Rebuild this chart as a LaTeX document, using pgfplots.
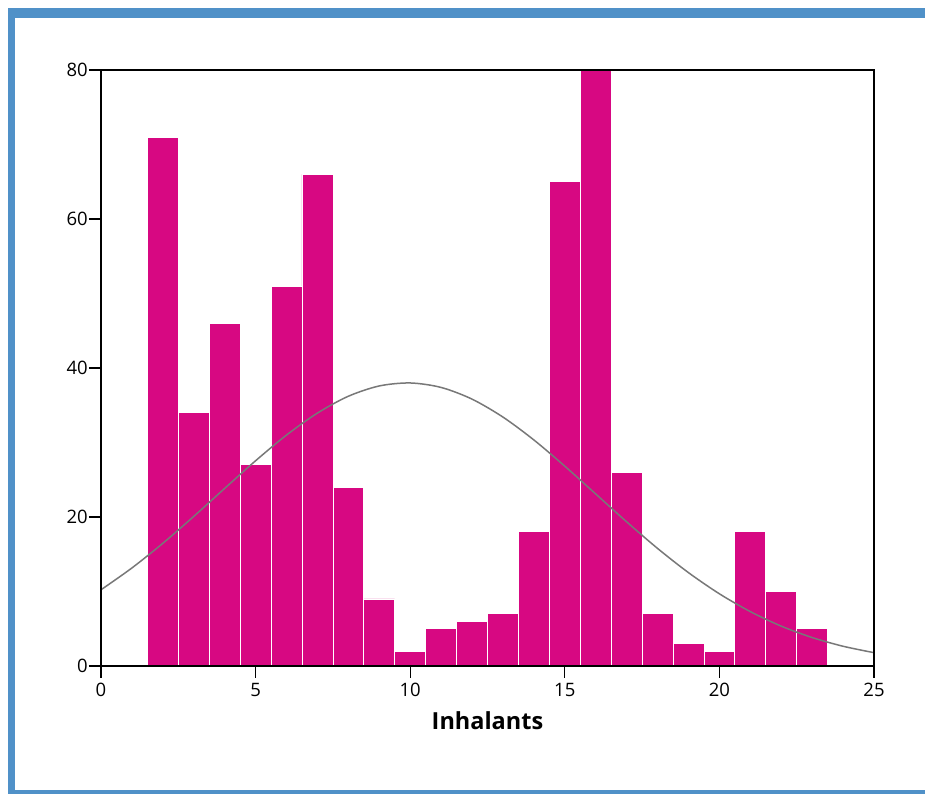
\documentclass[border=0pt]{standalone}
\usepackage{fontspec}
\setmainfont{Open Sans}
\usepackage{pgfplots}
\pgfplotsset{compat=1.18}
\definecolor{spssblue}{RGB}{80,145,200}
\definecolor{barmag}{RGB}{215,8,130}
\definecolor{curvegray}{RGB}{120,120,120}
\begin{document}
\begin{tikzpicture}[x=1pt,y=1pt]
\useasboundingbox (0,0) rectangle (925,794);
\fill[spssblue] (8,0) rectangle (925,786);
\fill[white] (15,4) rectangle (925,776);
\begin{axis}[
  at={(101pt,128pt)}, anchor=south west,
  scale only axis, width=773pt, height=596pt,
  xmin=0, xmax=25, ymin=0, ymax=80,
  xtick={0,5,10,15,20,25}, ytick={0,20,40,60,80},
  tick align=outside, major tick length=12pt,
  xtick pos=bottom, ytick pos=left,
  axis line style={black, line width=1.2pt},
  tick style={black, line width=1.2pt},
  axis on top,
  /pgf/number format/assume math mode=true,
  xticklabel style={font=\fontsize{18.5}{18.5}\selectfont, inner sep=2pt, yshift=-3pt},
  yticklabel style={font=\fontsize{18.5}{18.5}\selectfont, inner sep=1pt},
  xlabel={\bfseries Inhalants},
  xlabel style={font=\fontsize{23.5}{23.5}\selectfont, at={(axis description cs:0.5,0)}, anchor=north, yshift=-45pt, inner sep=0pt},
]
\addplot[ybar interval, fill=barmag, draw=white, line width=0.8pt] coordinates {
(1.5,71) (2.5,34) (3.5,46) (4.5,27) (5.5,51) (6.5,66) (7.5,24) (8.5,9)
(9.5,2) (10.5,5) (11.5,6) (12.5,7) (13.5,18) (14.5,65) (15.5,80) (16.5,26)
(17.5,7) (18.5,3) (19.5,2) (20.5,18) (21.5,10) (22.5,5) (23.5,5)};
\addplot[smooth, curvegray, line width=1.5pt, mark=none] coordinates {
(0,10.23) (1,13.16) (2,16.47) (3,20.08) (4,23.84) (5,27.55) (6,31.00)
(7,33.95) (8,36.21) (9,37.59) (10,37.99) (11,37.39) (12,35.82) (13,33.41)
(14,30.34) (15,26.82) (16,23.09) (17,19.35) (18,15.78) (19,12.53) (20,9.69)
(21,7.30) (22,5.35) (23,3.82) (24,2.65) (25,1.79)};
\end{axis}
\end{tikzpicture}
\end{document}
